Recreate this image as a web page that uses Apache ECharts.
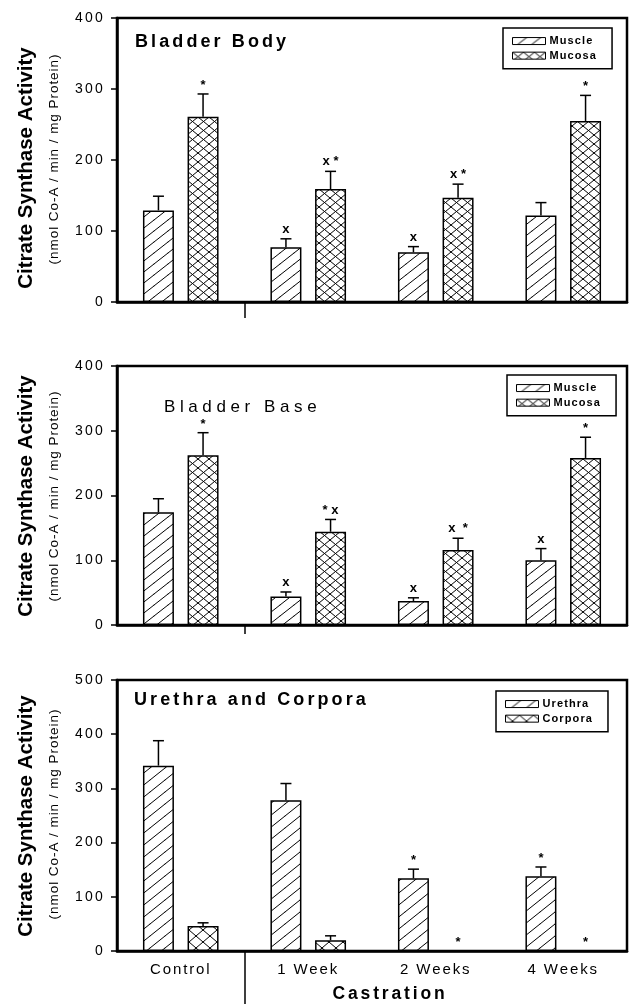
<!DOCTYPE html>
<html>
<head>
<meta charset="utf-8">
<script src="https://cdn.jsdelivr.net/npm/echarts@6/dist/echarts.min.js"></script>
<style>html,body{margin:0;padding:0;background:#fff}#c{width:631px;height:1004px}</style>
</head>
<body>
<div id="c"></div>
<script>
// ---- data ----
const categories = ['Control', '1 Week', '2 Weeks', '4 Weeks'];

const bodyMuscle     = [129, 77, 70, 122];
const bodyMuscleErr  = [20, 12, 8, 18];
const bodyMuscleAnn  = ['', 'x', 'x', ''];
const bodyMucosa     = [261, 159, 147, 255];
const bodyMucosaErr  = [32, 25, 19, 36];
const bodyMucosaAnn  = ['*', 'x *', 'x *', '*'];

const baseMuscle     = [174, 44, 37, 100];
const baseMuscleErr  = [21, 7, 5, 18];
const baseMuscleAnn  = ['', 'x', 'x', 'x'];
const baseMucosa     = [262, 144, 116, 258];
const baseMucosaErr  = [35, 19, 18, 32];
const baseMucosaAnn  = ['*', '* x', 'x  *', '*'];

const urethra        = [342, 278, 134, 138];
const urethraErr     = [46, 31, 17, 17];
const urethraAnn     = ['', '', '*', '*'];
const corpora        = [46, 20, 0, 0];
const corporaErr     = [6, 8, 0, 0];
const corporaAnn     = ['', '', '*', '*'];

const yMax = [400, 400, 500];
const yInterval = 100;
const panelTitles = ['Bladder Body', 'Bladder Base', 'Urethra and Corpora'];
const legendNames = [['Muscle', 'Mucosa'], ['Muscle', 'Mucosa'], ['Urethra', 'Corpora']];
const yTitle = 'Citrate Synthase Activity';
const ySubTitle = '(nmol Co-A / min / mg Protein)';
const xTitle = 'Castration';

// ---- typography: letter spacing by font size (canvas letterSpacing) ----
const LS = { '14': 2.2, '18': 3.1, '17': 4.6, '17.5': 2.85, '11': 1.1, '15': 1.9, '13.5': 0.95 };
function lsFor(font) {
  const m = /(\d+(?:\.\d+)?)px/.exec(font || '');
  return (m && LS[m[1]]) ? LS[m[1]] + 'px' : '0px';
}
(function () {
  const P = CanvasRenderingContext2D.prototype;
  if (!('letterSpacing' in P)) return;
  const of = P.fillText, om = P.measureText;
  P.fillText = function (t, x, y, mw) {
    const prev = this.letterSpacing;
    this.letterSpacing = lsFor(this.font);
    const r = (mw === undefined) ? of.call(this, t, x, y) : of.call(this, t, x, y, mw);
    this.letterSpacing = prev;
    return r;
  };
  P.measureText = function (t) {
    const prev = this.letterSpacing;
    this.letterSpacing = lsFor(this.font);
    const r = om.call(this, t);
    this.letterSpacing = prev;
    return r;
  };
})();

// ---- hatch patterns ----
function hatch(w, h, cross) {
  const c = document.createElement('canvas');
  c.width = w; c.height = h;
  const g = c.getContext('2d');
  g.fillStyle = '#fff'; g.fillRect(0, 0, w, h);
  g.strokeStyle = '#000'; g.lineWidth = 1;
  g.beginPath();
  [[0, 0], [w, 0], [-w, 0], [0, h], [0, -h]].forEach(([dx, dy]) => {
    g.moveTo(dx - w, dy + 2 * h); g.lineTo(dx + 2 * w, dy - h);
    if (cross) { g.moveTo(dx - w, dy - h); g.lineTo(dx + 2 * w, dy + 2 * h); }
  });
  g.stroke();
  return { image: c, repeat: 'repeat' };
}
const patSlash = hatch(14, 11, false);
const patCross = hatch(11, 9, true);
const patSlashB = hatch(15, 12, false);
const patCrossB = hatch(14, 12, true);

const BAR_FRAC = 0.243, BAR_GAP = 0.44;
const grids = [
  { left: 117, top: 18, width: 510, height: 284 },
  { left: 117, top: 366, width: 510, height: 259 },
  { left: 117, top: 680, width: 510, height: 271 }
];
const sepLen = [16, 9, 53];

const panels = [
  [[bodyMuscle, bodyMuscleErr, bodyMuscleAnn, patSlash], [bodyMucosa, bodyMucosaErr, bodyMucosaAnn, patCross]],
  [[baseMuscle, baseMuscleErr, baseMuscleAnn, patSlash], [baseMucosa, baseMucosaErr, baseMucosaAnn, patCross]],
  [[urethra, urethraErr, urethraAnn, patSlashB], [corpora, corporaErr, corporaAnn, patCrossB]]
];

const SANS = '"Liberation Sans", Arial, sans-serif';
const xAxes = [], yAxes = [], series = [], legends = [];

grids.forEach((gr, p) => {
  gr.show = true; gr.borderColor = '#000'; gr.borderWidth = 2.5;
  xAxes.push({
    type: 'category', gridIndex: p, data: categories,
    axisLine: { lineStyle: { color: '#000', width: 2.5 } },
    axisTick: { alignWithLabel: true, length: 5, lineStyle: { color: '#000', width: 1.5 } },
    axisLabel: { show: p === 2, color: '#000', fontFamily: SANS, fontSize: 15, margin: 10 }
  });
  yAxes.push({
    type: 'value', gridIndex: p, min: 0, max: yMax[p], interval: yInterval,
    axisLine: { show: true, lineStyle: { color: '#000', width: 2.5 } },
    axisTick: { show: true, length: 6, lineStyle: { color: '#000', width: 1.5 } },
    splitLine: { show: false },
    axisLabel: { color: '#000', fontFamily: SANS, fontSize: 14, margin: 12 }
  });
});
// separator tick between Control and the Castration groups (boundary after first category)
grids.forEach((gr, p) => {
  xAxes.push({
    type: 'value', gridIndex: p, min: 0, max: categories.length, position: 'bottom',
    axisLine: { show: false }, axisLabel: { show: false }, splitLine: { show: false },
    axisTick: { show: true, customValues: [1], length: sepLen[p], lineStyle: { color: '#000', width: 1.5 } }
  });
});

panels.forEach((pan, p) => {
  pan.forEach((s, k) => {
    const [vals, errs, ann, pat] = s;
    const name = legendNames[p][k];
    series.push({
      type: 'bar', name, xAxisIndex: p, yAxisIndex: p, data: vals,
      barWidth: (BAR_FRAC * 100) + '%', barGap: (BAR_GAP * 100) + '%',
      itemStyle: { color: pat, borderColor: '#000', borderWidth: 1.5 },
      silent: true, z: 2
    });
    const side = k === 0 ? -1 : 1;
    series.push({
      type: 'custom', xAxisIndex: p, yAxisIndex: p, z: 3, silent: true,
      data: vals.map((v, i) => [i, v, errs[i]]),
      encode: { x: 0, y: 1 },
      renderItem: (params, api) => {
        const idx = api.value(0), v = api.value(1), e = api.value(2);
        const base = api.coord([idx, v]);
        const top = api.coord([idx, v + e]);
        const band = api.size([1, 0])[0];
        const off = side * band * BAR_FRAC * (1 + BAR_GAP) / 2;
        const x = base[0] + off;
        const children = [];
        if (e > 0) {
          children.push({ type: 'line', shape: { x1: x, y1: base[1], x2: x, y2: top[1] }, style: { stroke: '#000', lineWidth: 1.5 } });
          children.push({ type: 'line', shape: { x1: x - 5.5, y1: top[1], x2: x + 5.5, y2: top[1] }, style: { stroke: '#000', lineWidth: 1.5 } });
        }
        const a = ann[params.dataIndex];
        if (a) {
          const star = a.indexOf('x') < 0;
          children.push({ type: 'text', style: { text: a, x: x, y: top[1] - (star ? 2 : 3), align: 'center', verticalAlign: 'bottom', font: 'bold 13px "Liberation Sans", sans-serif', fill: '#000' } });
        }
        return { type: 'group', children };
      }
    });
  });
});

const legendPos = [
  { left: 503, top: 28 },
  { left: 507, top: 375 },
  { left: 496, top: 691 }
];
legendPos.forEach((lp, p) => {
  legends.push(Object.assign({
    data: legendNames[p], orient: 'vertical', icon: 'rect', itemWidth: 33, itemHeight: 7, itemGap: 2.5,
    padding: [7, 15, 7, 9], borderColor: '#000', borderWidth: 1.5, selectedMode: false,
    textStyle: { color: '#000', fontFamily: SANS, fontWeight: 'bold', fontSize: 11, padding: [0, 0, 0, -1] },
    itemStyle: { borderColor: '#000', borderWidth: 1 }
  }, lp));
});

const yTitleX = 26, ySubX = 54;
const yTitleY = [168, 496, 816];
const ySubY = [159, 496, 814];
const graphics = [];
yTitleY.forEach((y, p) => {
  graphics.push({ type: 'text', x: yTitleX, y: y, rotation: Math.PI / 2, style: { text: yTitle, font: 'bold 20.5px "Liberation Sans", sans-serif', align: 'center', verticalAlign: 'middle', fill: '#000' } });
  graphics.push({ type: 'text', x: ySubX, y: ySubY[p], rotation: Math.PI / 2, style: { text: ySubTitle, font: '13.5px "Liberation Sans", sans-serif', align: 'center', verticalAlign: 'middle', fill: '#000' } });
});
graphics.push({ type: 'text', x: 135, y: 42, style: { text: panelTitles[0], font: 'bold 18px "Liberation Sans", sans-serif', align: 'left', verticalAlign: 'middle', fill: '#000' } });
graphics.push({ type: 'text', x: 164, y: 407, style: { text: panelTitles[1], font: '17px "Liberation Sans", sans-serif', align: 'left', verticalAlign: 'middle', fill: '#000' } });
graphics.push({ type: 'text', x: 134, y: 700, style: { text: panelTitles[2], font: 'bold 18px "Liberation Sans", sans-serif', align: 'left', verticalAlign: 'middle', fill: '#000' } });
graphics.push({ type: 'text', x: 390, y: 994, style: { text: xTitle, font: 'bold 17.5px "Liberation Sans", sans-serif', align: 'center', verticalAlign: 'middle', fill: '#000' } });

const chart = echarts.init(document.getElementById('c'), null, { renderer: 'canvas' });
chart.setOption({
  animation: false,
  backgroundColor: '#fff',
  grid: grids,
  xAxis: xAxes,
  yAxis: yAxes,
  legend: legends,
  series: series,
  graphic: graphics
});
</script>
</body>
</html>
